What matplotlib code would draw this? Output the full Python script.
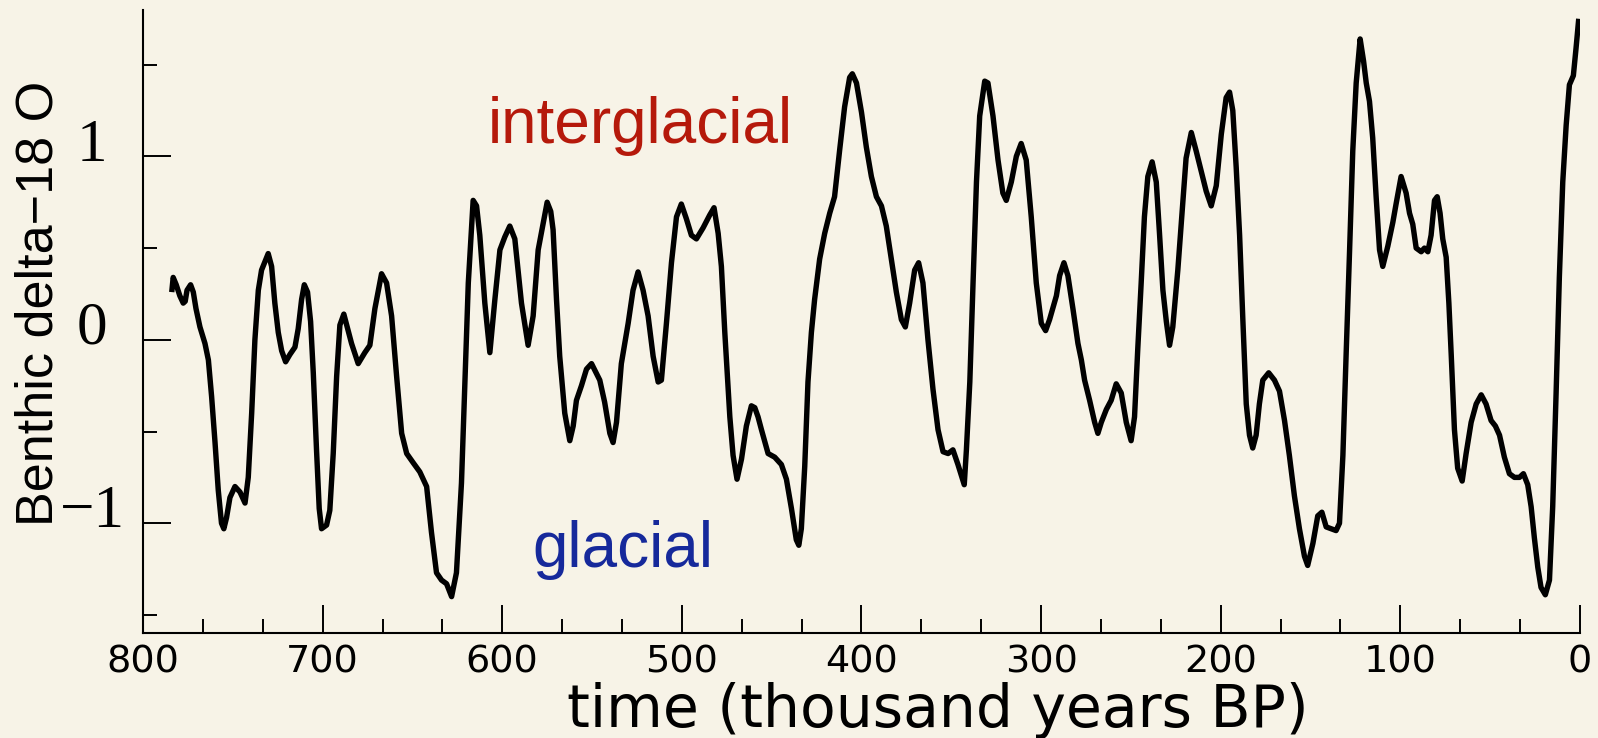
import matplotlib
matplotlib.use("Agg")
import matplotlib.pyplot as plt
from matplotlib.ticker import MultipleLocator, FixedLocator
import matplotlib.transforms as mtransforms

# Benthic delta-18O (normalised, glacial down) against age in thousand years BP
age_kyr = [
    784.0, 783.2, 781.5, 779.5, 777.6, 776.5, 775.5, 773.5, 772.0, 770.5,
    768.3, 765.5, 763.6, 761.8, 759.9, 758.1, 756.3, 755.0, 753.5, 751.6,
    748.8, 746.0, 743.2, 741.4, 739.5, 737.7, 735.8, 734.0, 730.3, 728.4,
    726.6, 724.7, 722.8, 720.6, 718.2, 715.4, 713.6, 711.7, 710.2, 708.4,
    706.7, 705.2, 703.4, 701.9, 700.6, 697.8, 696.0, 694.1, 692.2, 690.4,
    688.2, 683.9, 680.2, 676.5, 673.7, 670.9, 667.2, 664.4, 661.6, 658.8,
    656.0, 653.2, 649.6, 645.9, 642.1, 639.4, 636.6, 633.8, 631.0, 628.2,
    625.5, 622.7, 620.8, 618.9, 616.2, 614.3, 612.5, 609.7, 606.9, 604.1,
    601.3, 598.6, 595.8, 593.0, 589.3, 585.6, 582.8, 580.0, 575.0, 573.0,
    571.7, 569.8, 568.0, 565.2, 562.4, 560.5, 558.7, 555.9, 553.1, 550.3,
    545.7, 543.0, 540.1, 538.3, 536.4, 533.7, 529.9, 527.2, 524.4, 521.6,
    518.8, 516.0, 513.2, 511.4, 508.6, 505.8, 503.0, 500.3, 497.5, 494.7,
    491.9, 488.2, 484.5, 482.1, 479.8, 478.0, 476.1, 473.3, 471.5, 469.3,
    466.8, 464.1, 461.3, 459.4, 457.6, 455.7, 452.0, 448.3, 444.6, 441.8,
    439.0, 436.3, 434.9, 433.5, 431.6, 429.8, 427.9, 426.1, 423.3, 420.5,
    417.7, 415.0, 412.1, 409.4, 406.6, 405.1, 402.8, 400.0, 397.3, 394.5,
    391.7, 388.9, 386.2, 383.4, 380.6, 377.8, 375.6, 373.2, 370.4, 368.2,
    365.8, 363.0, 360.2, 357.4, 354.6, 351.8, 349.1, 346.3, 342.8, 341.6,
    339.7, 337.9, 336.0, 334.2, 331.4, 329.6, 326.8, 324.0, 321.3, 319.4,
    316.6, 313.8, 311.1, 308.3, 305.5, 302.7, 299.9, 297.5, 295.3, 291.5,
    289.7, 287.3, 285.1, 282.3, 279.5, 277.6, 275.8, 273.0, 270.2, 268.4,
    266.5, 263.7, 261.0, 258.2, 255.4, 252.6, 249.9, 248.0, 246.2, 244.3,
    242.5, 240.6, 238.2, 235.9, 234.1, 232.2, 230.3, 228.5, 226.7, 223.9,
    221.1, 219.3, 216.4, 213.7, 210.9, 208.1, 205.3, 202.5, 199.7, 197.0,
    195.1, 193.3, 191.4, 189.5, 187.7, 185.8, 184.0, 182.2, 180.3, 178.5,
    176.6, 173.3, 170.1, 167.3, 164.5, 161.8, 159.0, 156.2, 153.4, 151.6,
    148.7, 146.0, 143.7, 141.3, 138.5, 135.8, 133.9, 132.0, 130.2, 128.3,
    126.5, 124.6, 122.4, 120.5, 119.0, 117.2, 115.4, 113.5, 111.6, 109.8,
    107.0, 104.2, 102.4, 99.6, 96.8, 94.9, 93.1, 91.2, 88.4, 86.6,
    84.7, 82.9, 81.0, 79.5, 77.9, 76.4, 74.5, 73.0, 71.7, 69.9,
    68.1, 65.6, 63.4, 60.6, 57.8, 55.0, 52.3, 49.5, 47.1, 44.8,
    42.1, 39.3, 36.5, 33.7, 31.5, 29.1, 27.2, 25.4, 23.5, 21.7,
    19.3, 17.0, 15.2, 13.3, 11.5, 9.6, 7.7, 5.9, 3.7, 2.2,
    0.7,
]
d18o = [
    0.26, 0.34, 0.30, 0.24, 0.20, 0.21, 0.27, 0.30, 0.26, 0.17,
    0.07, -0.02, -0.11, -0.31, -0.56, -0.82, -1.00, -1.03, -0.97, -0.86,
    -0.80, -0.83, -0.89, -0.75, -0.40, 0.00, 0.27, 0.38, 0.47, 0.40,
    0.20, 0.04, -0.06, -0.12, -0.08, -0.04, 0.06, 0.22, 0.30, 0.26,
    0.10, -0.18, -0.60, -0.92, -1.03, -1.01, -0.93, -0.62, -0.20, 0.08,
    0.14, -0.02, -0.13, -0.07, -0.03, 0.17, 0.36, 0.31, 0.13, -0.20,
    -0.51, -0.62, -0.67, -0.72, -0.80, -1.05, -1.27, -1.31, -1.33, -1.40,
    -1.27, -0.78, -0.23, 0.31, 0.76, 0.73, 0.57, 0.20, -0.07, 0.22,
    0.49, 0.56, 0.62, 0.55, 0.20, -0.03, 0.13, 0.49, 0.75, 0.70,
    0.60, 0.22, -0.09, -0.40, -0.55, -0.47, -0.33, -0.25, -0.16, -0.13,
    -0.22, -0.34, -0.51, -0.56, -0.45, -0.13, 0.09, 0.27, 0.37, 0.27,
    0.13, -0.09, -0.23, -0.22, 0.09, 0.42, 0.67, 0.74, 0.66, 0.57,
    0.55, 0.61, 0.68, 0.72, 0.58, 0.40, 0.04, -0.42, -0.63, -0.76,
    -0.65, -0.47, -0.36, -0.37, -0.42, -0.49, -0.62, -0.64, -0.68, -0.76,
    -0.92, -1.09, -1.12, -1.03, -0.69, -0.23, 0.04, 0.22, 0.44, 0.58,
    0.69, 0.78, 1.04, 1.27, 1.43, 1.45, 1.40, 1.24, 1.05, 0.89,
    0.78, 0.73, 0.62, 0.44, 0.26, 0.11, 0.07, 0.20, 0.38, 0.42,
    0.31, 0.00, -0.27, -0.49, -0.61, -0.62, -0.60, -0.68, -0.79, -0.60,
    -0.23, 0.31, 0.86, 1.22, 1.41, 1.40, 1.22, 0.98, 0.80, 0.76,
    0.86, 1.00, 1.07, 0.98, 0.67, 0.31, 0.09, 0.05, 0.11, 0.24,
    0.35, 0.42, 0.35, 0.17, -0.02, -0.11, -0.22, -0.33, -0.45, -0.51,
    -0.45, -0.38, -0.33, -0.24, -0.29, -0.45, -0.55, -0.42, -0.05, 0.31,
    0.67, 0.89, 0.97, 0.86, 0.58, 0.27, 0.10, -0.03, 0.07, 0.38,
    0.75, 0.99, 1.13, 1.03, 0.92, 0.81, 0.73, 0.84, 1.12, 1.32,
    1.35, 1.25, 0.94, 0.57, 0.11, -0.35, -0.52, -0.59, -0.52, -0.35,
    -0.22, -0.18, -0.22, -0.28, -0.44, -0.63, -0.85, -1.03, -1.18, -1.23,
    -1.11, -0.96, -0.94, -1.02, -1.03, -1.04, -1.00, -0.63, -0.08, 0.48,
    1.03, 1.40, 1.64, 1.52, 1.40, 1.30, 1.10, 0.78, 0.49, 0.40,
    0.51, 0.64, 0.74, 0.89, 0.80, 0.69, 0.63, 0.50, 0.48, 0.50,
    0.48, 0.57, 0.76, 0.78, 0.69, 0.55, 0.45, 0.20, -0.08, -0.49,
    -0.70, -0.77, -0.62, -0.45, -0.35, -0.30, -0.35, -0.44, -0.47, -0.52,
    -0.64, -0.73, -0.75, -0.75, -0.73, -0.79, -0.91, -1.08, -1.24, -1.35,
    -1.39, -1.31, -0.91, -0.29, 0.34, 0.86, 1.17, 1.39, 1.44, 1.59,
    1.75,
]

ytick_major = [-1, 0, 1]
ytick_labels = ["\u22121", "0", "1"]
xtick_major = [800, 700, 600, 500, 400, 300, 200, 100, 0]

bg = "#f7f3e7"
W, H = 1598, 738
fig = plt.figure(figsize=(W / 100, H / 100), dpi=100, facecolor=bg)
ax = fig.add_axes([143 / W, 1 - 633.3 / H, (1580 - 143) / W, (633.3 - 9.6) / H])
ax.set_facecolor(bg)

ax.plot(age_kyr, d18o, color="black", lw=3.9, solid_joinstyle="round",
        solid_capstyle="butt")

ax.set_xlim(800, 0)
ax.set_ylim(-1.6, 1.8)

for side in ("top", "right"):
    ax.spines[side].set_visible(False)
for side in ("left", "bottom"):
    ax.spines[side].set_linewidth(1.5)

ax.xaxis.set_major_locator(FixedLocator(xtick_major))
ax.xaxis.set_minor_locator(MultipleLocator(100 / 3))
ax.set_xticklabels([str(v) for v in xtick_major], fontsize=27.5,
                   family="DejaVu Sans")
ax.tick_params(axis="x", which="major", direction="in", length=20, width=1.4,
               pad=8)
ax.tick_params(axis="x", which="minor", direction="in", length=10, width=1.4)

ax.yaxis.set_major_locator(FixedLocator(ytick_major))
ax.yaxis.set_minor_locator(FixedLocator([-1.5, -0.5, 0.5, 1.5]))
ax.set_yticklabels(ytick_labels, fontsize=44, family="Liberation Serif")
ax.tick_params(axis="y", which="major", direction="in", length=20, width=1.4,
               pad=36.7)
ax.tick_params(axis="y", which="minor", direction="in", length=10, width=1.4)
shift = mtransforms.ScaledTranslation(0, -3 / 72, fig.dpi_scale_trans)
for lbl in ax.get_yticklabels():
    lbl.set_horizontalalignment("center")
    lbl.set_verticalalignment("baseline")
    lbl.set_transform(lbl.get_transform() + shift)

fig.text(938 / W, 11 / H, "time (thousand years BP)", fontsize=42,
         family="DejaVu Sans", ha="center", va="baseline")
fig.text(53 / W, 1 - 303.5 / H, "Benthic delta\u221218 O", fontsize=37.5,
         family="Liberation Sans", rotation=90, rotation_mode="anchor",
         ha="center", va="baseline")

ax.text(608.0, 1.074, "interglacial", fontsize=46, family="Liberation Sans",
        color="#b5190b", ha="left", va="baseline")
ax.text(583.4, -1.237, "glacial", fontsize=46, family="Liberation Sans",
        color="#16299b", ha="left", va="baseline")

fig.savefig("out.png", dpi=100, facecolor=bg)
